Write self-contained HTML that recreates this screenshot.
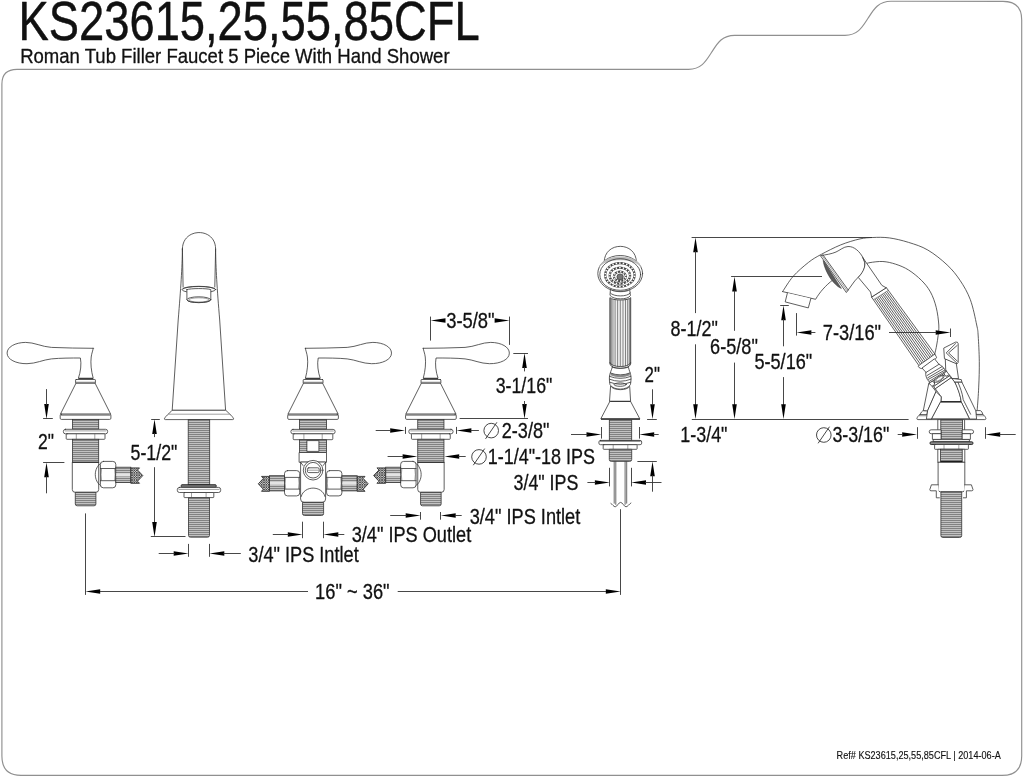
<!DOCTYPE html>
<html><head><meta charset="utf-8"><title>KS23615,25,55,85CFL</title>
<style>
html,body{margin:0;padding:0;background:#fff;}
svg{display:block;will-change:transform;}
text{font-family:"Liberation Sans",sans-serif;fill:#111;stroke:#111;stroke-width:.3px;stroke-linejoin:round;}
.tt{stroke-width:.45px;}
.ts{stroke-width:.15px;}
.d{stroke:#333;stroke-width:.9;fill:none;}
.o{stroke:#363636;stroke-width:.8;fill:#fff;stroke-linejoin:round;stroke-linecap:round;}
.n{stroke:#363636;stroke-width:.8;fill:none;stroke-linejoin:round;stroke-linecap:round;}
.f{stroke:#555;stroke-width:.55;fill:none;}
.th{stroke:#333;stroke-width:.8;fill:url(#th);}
.tf{stroke:#333;stroke-width:.9;fill:url(#tf);}
.hz{stroke:#333;stroke-width:.9;fill:url(#hz);stroke-linejoin:round;}
.ah{fill:#000;stroke:none;}
.bd{stroke:#909090;stroke-width:1.15;fill:none;}
.dk{fill:#333;stroke:#222;stroke-width:.8;}
</style></head><body>
<svg width="1024" height="778" viewBox="0 0 1024 778">
<defs>
<pattern id="th" width="8" height="2" patternUnits="userSpaceOnUse">
<rect width="8" height="2" fill="#c2c2c2"/><rect y="0" width="8" height="1" fill="#828282"/></pattern>
<pattern id="tf" width="8" height="2" patternUnits="userSpaceOnUse">
<rect width="8" height="2" fill="#a8a8a8"/><rect y="0" width="8" height="1" fill="#8a8a8a"/></pattern>
<pattern id="hz" width="2.4" height="2.4" patternUnits="userSpaceOnUse">
<rect width="2.4" height="2.4" fill="#d8d8d8"/>
<path d="M0,0L2.4,2.4M2.4,0L0,2.4" stroke="#333" stroke-width=".7"/></pattern>
</defs>
<rect width="1024" height="778" fill="#fff"/>
<path class="bd" d="M17,69.3 H688.6 C701.6,69.3 706.1,60.8 711.6,52.3 C717.1,43.8 721.6,35.3 734.6,35.3 H845.0 C858.0,35.3 862.5,26.8 868.0,18.3 C873.5,9.8 878.0,1.3 891.0,1.3 H1003 Q1021.7,1.3 1021.7,20 V756 Q1021.7,775.4 1002,775.4 H21 Q1.9,775.4 1.9,756 V84 Q1.9,69.3 17,69.3 Z"/>
<text class="tt" x="18.6" y="39.9" font-size="55.0" textLength="461.0" lengthAdjust="spacingAndGlyphs">KS23615,25,55,85CFL</text>
<text class="t" x="20.2" y="62.7" font-size="20.2" textLength="429.4" lengthAdjust="spacingAndGlyphs">Roman Tub Filler Faucet 5 Piece With Hand Shower</text>
<text class="ts" x="836.6" y="758.8" font-size="11.7" textLength="164.2" lengthAdjust="spacingAndGlyphs">Ref# KS23615,25,55,85CFL | 2014-06-A</text>
<g id="h">
<path class="o" d="M93.2,348.3 C80,348 65,348.2 51.4,347.4 C42,346.8 34,342.3 25.7,342.4 C15,342.5 7.1,347 7.1,353.1 C7.1,359.5 16,363.8 27,363.7 C36,363.6 43,359.8 51.4,358.9 C60,358 72,358 80.4,358 C81.6,364 80.6,372 78.4,378.2 L93.2,378.2 C91.2,371 90.4,363 91.2,357 C91.7,353 93,350.5 93.2,348.3 Z"/>
<path d="M78.4,378.7 H93.2" stroke="#333" stroke-width="1.2" fill="none"/>
<rect class="o" x="75.6" y="379.5" width="19.8" height="3.9" rx=".6"/>
<line class="f" x1="75.6" y1="382.2" x2="95.4" y2="382.2"/>
<path class="o" d="M75.9,383.4 L60.4,414.2 L110.7,414.2 L95.2,383.4 Z"/>
<rect class="o" x="60.2" y="414.2" width="50.7" height="5.2" rx="1.2"/>
<line class="f" x1="60.5" y1="415.5" x2="110.6" y2="415.5"/>
</g>
<use href="#h" transform="translate(398.6,0) scale(-1,1)"/>
<use href="#h" transform="translate(516.45,0) scale(-1,1)"/>
<g id="v">
<rect class="th" x="72.5" y="419.4" width="26.2" height="10"/>
<rect class="o" x="63.4" y="429.3" width="44.2" height="4.5" rx="2"/>
<line class="f" x1="64.9" y1="430.9" x2="106.2" y2="430.9"/>
<rect class="o" x="66.2" y="433.8" width="38.8" height="5.5" rx=".8"/>
<line class="f" x1="76.3" y1="433.8" x2="76.3" y2="439.3"/>
<line class="f" x1="94.8" y1="433.8" x2="94.8" y2="439.3"/>
<rect class="th" x="72.5" y="439.3" width="26.2" height="23.2"/>
<path class="o" d="M72.3,462.5 V489.5 Q72.3,492.3 75.2,492.3 H95.8 Q98.7,492.3 98.7,489.5 V462.5 Z"/>
<line class="d" x1="72.3" y1="462.5" x2="98.7" y2="462.5"/>
<path class="th" d="M75.3,492.3 H95.9 V504 Q95.9,505.8 94,505.8 H77.2 Q75.3,505.8 75.3,504 Z"/>
<path class="n" d="M101,463 C93.3,468 93.3,481 101,486"/>
<path class="o" d="M103.4,461.4 H112.8 Q115.8,461.4 115.8,464.4 V484.8 Q115.8,487.8 112.8,487.8 H103.4 Q100.4,487.8 100.4,484.8 V464.4 Q100.4,461.4 103.4,461.4 Z"/>
<line class="n" x1="100.4" y1="468.5" x2="115.8" y2="468.5"/>
<line class="n" x1="100.4" y1="480.7" x2="115.8" y2="480.7"/>
<path class="f" d="M101.6,468.5 Q100.6,474.6 101.6,480.7 M114.6,468.5 Q115.6,474.6 114.6,480.7"/>
<rect class="th" x="115.8" y="467.2" width="15" height="15.4"/>
<rect x="116.2" y="473.4" width="14.2" height="3" fill="#e4e4e4"/>
<path class="hz" d="M130.8,467.9 H139.5 L137.5,470 L142.8,475.6 L137.5,481.2 L139.5,483.3 H130.8 Z"/>
</g>
<use href="#v" transform="translate(516.45,0) scale(-1,1)"/>
<path class="o" d="M182.4,249 C182.4,227 215.6,227 215.6,249 C215.8,268 217,288 219.7,320 L225.6,410.3 H172.2 L178.2,320 C180.8,288 182.2,268 182.4,249 Z"/>
<path class="n" d="M182.4,249 L183.1,287 M215.6,249 L214.8,287"/>
<ellipse class="o" cx="198.9" cy="289.6" rx="16.9" ry="3.3"/>
<path class="n" d="M182.6,289 C186,285.6 211.8,285.6 215.2,289" />
<path class="o" d="M186.9,289.6 V299.7 C186.9,303.6 210.8,303.6 210.8,299.7 V289.6 C207,288.2 190.7,288.2 186.9,289.6Z"/>
<ellipse class="n" cx="198.9" cy="299.7" rx="11.9" ry="2.9"/>
<ellipse class="f" cx="198.9" cy="299.9" rx="10" ry="2.1"/>
<path class="o" d="M172.4,410.3 H225.8 L229.7,414 C231.5,415.5 233,417.3 233.6,418.9 Q233.6,419.6 232.6,419.6 H165.4 Q164.4,419.6 164.4,418.9 C165,417.3 166.5,415.5 168.5,414 Z"/>
<line class="f" x1="168.6" y1="414.2" x2="229.7" y2="414.2"/>
<rect class="th" x="188.2" y="419.6" width="21.5" height="65"/>
<rect x="181.2" y="484.7" width="35" height="2.7" rx=".8" fill="#777" stroke="#222" stroke-width=".9"/>
<rect class="o" x="177.3" y="487.4" width="43.4" height="5.1" rx="2.2"/>
<line class="f" x1="178.5" y1="489.4" x2="219.5" y2="489.4"/>
<rect class="o" x="184" y="492.5" width="29.8" height="5.1" rx=".6"/>
<line class="f" x1="191.5" y1="492.5" x2="191.5" y2="497.6"/>
<line class="f" x1="206.1" y1="492.5" x2="206.1" y2="497.6"/>
<path class="th" d="M188.5,497.6 H209.5 V535.4 Q209.5,537.2 207.6,537.2 H190.4 Q188.5,537.2 188.5,535.4 Z"/>
<rect class="th" x="299.5" y="419.4" width="27" height="10"/>
<rect class="o" x="290.9" y="429.4" width="44.2" height="4.4" rx="2"/>
<line class="f" x1="292.4" y1="431.0" x2="333.7" y2="431.0"/>
<rect class="o" x="293.2" y="433.8" width="39.6" height="5.9" rx=".8"/>
<line class="f" x1="303.9" y1="433.8" x2="303.9" y2="439.7"/>
<line class="f" x1="322.2" y1="433.8" x2="322.2" y2="439.7"/>
<rect class="th" x="299.5" y="439.7" width="27" height="12.8"/>
<rect class="o" x="307.2" y="440.6" width="11.7" height="10.8"/>
<rect class="o" x="299.5" y="452.5" width="27" height="9.8"/>
<path class="o" d="M300.6,462.3 V499 Q300.6,502.3 304,502.3 H322.2 Q325.6,502.3 325.6,499 V462.3 Z"/>
<path class="n" d="M300.6,462.3 L303,465.5 M325.6,462.3 L323.2,465.5"/>
<circle class="o" cx="313.1" cy="470.2" r="9.8"/>
<circle class="n" cx="313.1" cy="470.2" r="7.8"/>
<rect class="o" x="307.4" y="467.8" width="11.8" height="4.8" rx="1.4"/>
<line class="f" x1="308.0" y1="470.2" x2="318.6" y2="470.2"/>
<path class="n" d="M301.2,496.5 C302.5,491 308,488.1 313.1,488.1 C318.2,488.1 323.7,491 325,496.5"/>
<path class="th" d="M302.5,502.4 H323.6 V513.6 Q323.6,515.5 321.6,515.5 H304.5 Q302.5,515.5 302.5,513.6 Z"/>
<path class="o" d="M287.5,470.6 H296.7 Q299.7,470.6 299.7,473.6 V492.9 Q299.7,495.9 296.7,495.9 H287.5 Q284.5,495.9 284.5,492.9 V473.6 Q284.5,470.6 287.5,470.6 Z"/>
<line class="n" x1="284.5" y1="477.4" x2="299.7" y2="477.4"/>
<line class="n" x1="284.5" y1="489.1" x2="299.7" y2="489.1"/>
<path class="f" d="M285.7,477.4 Q284.7,483.2 285.7,489.1 M298.5,477.4 Q299.5,483.2 298.5,489.1"/>
<rect class="th" x="269.4" y="475.7" width="15.1" height="15.2"/>
<rect x="269.9" y="481.8" width="14.2" height="3" fill="#e4e4e4"/>
<path class="hz" d="M269.4,476.4 H261.5 L263.3,478.5 L258.3,483.8 L263.3,489.2 L261.5,491.3 H269.4 Z"/>
<path class="o" d="M329.6,470.6 H338.9 Q341.9,470.6 341.9,473.6 V492.9 Q341.9,495.9 338.9,495.9 H329.6 Q326.6,495.9 326.6,492.9 V473.6 Q326.6,470.6 329.6,470.6 Z"/>
<line class="n" x1="326.6" y1="477.4" x2="341.9" y2="477.4"/>
<line class="n" x1="326.6" y1="489.1" x2="341.9" y2="489.1"/>
<path class="f" d="M327.8,477.4 Q326.8,483.2 327.8,489.1 M340.7,477.4 Q341.7,483.2 340.7,489.1"/>
<rect class="th" x="341.9" y="475.7" width="15.3" height="15.2"/>
<rect x="342.3" y="481.8" width="14.4" height="3" fill="#e4e4e4"/>
<path class="hz" d="M357.2,476.4 H365 L363.2,478.5 L368.2,483.8 L363.2,489.2 L365,491.3 H357.2 Z"/>
<path class="o" d="M604.2,262 C604.2,241 636.4,241 636.4,262 Z"/>
<ellipse class="o" cx="620.2" cy="273.5" rx="22.4" ry="18"/>
<path d="M598.8,268 C602,252.6 638.4,252.6 641.6,268 C636,257.6 604.4,257.6 598.8,268Z" fill="#bdbdbd" stroke="none"/>
<ellipse class="n" cx="620.2" cy="274.5" rx="20.4" ry="15.8"/>
<ellipse cx="619.9" cy="274.9" rx="14.7" ry="11.8" fill="none" stroke="#444" stroke-width="2.2"/>
<circle cx="634.49" cy="276.32" r=".85" fill="#fff"/>
<circle cx="633.64" cy="279.08" r=".85" fill="#fff"/>
<circle cx="632.00" cy="281.60" r=".85" fill="#fff"/>
<circle cx="629.65" cy="283.73" r=".85" fill="#fff"/>
<circle cx="626.73" cy="285.35" r=".85" fill="#fff"/>
<circle cx="623.42" cy="286.36" r=".85" fill="#fff"/>
<circle cx="619.90" cy="286.70" r=".85" fill="#fff"/>
<circle cx="616.38" cy="286.36" r=".85" fill="#fff"/>
<circle cx="613.07" cy="285.35" r=".85" fill="#fff"/>
<circle cx="610.15" cy="283.73" r=".85" fill="#fff"/>
<circle cx="607.80" cy="281.60" r=".85" fill="#fff"/>
<circle cx="606.16" cy="279.08" r=".85" fill="#fff"/>
<circle cx="605.31" cy="276.32" r=".85" fill="#fff"/>
<circle cx="605.31" cy="273.48" r=".85" fill="#fff"/>
<circle cx="606.16" cy="270.72" r=".85" fill="#fff"/>
<circle cx="607.80" cy="268.20" r=".85" fill="#fff"/>
<circle cx="610.15" cy="266.07" r=".85" fill="#fff"/>
<circle cx="613.07" cy="264.45" r=".85" fill="#fff"/>
<circle cx="616.38" cy="263.44" r=".85" fill="#fff"/>
<circle cx="619.90" cy="263.10" r=".85" fill="#fff"/>
<circle cx="623.42" cy="263.44" r=".85" fill="#fff"/>
<circle cx="626.73" cy="264.45" r=".85" fill="#fff"/>
<circle cx="629.65" cy="266.07" r=".85" fill="#fff"/>
<circle cx="632.00" cy="268.20" r=".85" fill="#fff"/>
<circle cx="633.64" cy="270.72" r=".85" fill="#fff"/>
<circle cx="634.49" cy="273.48" r=".85" fill="#fff"/>
<ellipse cx="619.9" cy="275.7" rx="10.2" ry="8.1" fill="none" stroke="#444" stroke-width="2.2"/>
<circle cx="629.95" cy="277.11" r=".85" fill="#fff"/>
<circle cx="628.73" cy="279.75" r=".85" fill="#fff"/>
<circle cx="626.46" cy="281.90" r=".85" fill="#fff"/>
<circle cx="623.39" cy="283.31" r=".85" fill="#fff"/>
<circle cx="619.90" cy="283.80" r=".85" fill="#fff"/>
<circle cx="616.41" cy="283.31" r=".85" fill="#fff"/>
<circle cx="613.34" cy="281.90" r=".85" fill="#fff"/>
<circle cx="611.07" cy="279.75" r=".85" fill="#fff"/>
<circle cx="609.85" cy="277.11" r=".85" fill="#fff"/>
<circle cx="609.85" cy="274.29" r=".85" fill="#fff"/>
<circle cx="611.07" cy="271.65" r=".85" fill="#fff"/>
<circle cx="613.34" cy="269.50" r=".85" fill="#fff"/>
<circle cx="616.41" cy="268.09" r=".85" fill="#fff"/>
<circle cx="619.90" cy="267.60" r=".85" fill="#fff"/>
<circle cx="623.39" cy="268.09" r=".85" fill="#fff"/>
<circle cx="626.46" cy="269.50" r=".85" fill="#fff"/>
<circle cx="628.73" cy="271.65" r=".85" fill="#fff"/>
<circle cx="629.95" cy="274.29" r=".85" fill="#fff"/>
<ellipse cx="619.9" cy="276.4" rx="6.0" ry="4.7" fill="none" stroke="#444" stroke-width="2.2"/>
<circle cx="625.66" cy="277.72" r=".85" fill="#fff"/>
<circle cx="623.83" cy="279.95" r=".85" fill="#fff"/>
<circle cx="620.75" cy="281.05" r=".85" fill="#fff"/>
<circle cx="617.41" cy="280.68" r=".85" fill="#fff"/>
<circle cx="614.85" cy="278.94" r=".85" fill="#fff"/>
<circle cx="613.90" cy="276.40" r=".85" fill="#fff"/>
<circle cx="614.85" cy="273.86" r=".85" fill="#fff"/>
<circle cx="617.41" cy="272.12" r=".85" fill="#fff"/>
<circle cx="620.75" cy="271.75" r=".85" fill="#fff"/>
<circle cx="623.83" cy="272.85" r=".85" fill="#fff"/>
<circle cx="625.66" cy="275.08" r=".85" fill="#fff"/>
<ellipse cx="620.1" cy="276.8" rx="3.2" ry="2.9" fill="#777" stroke="#333" stroke-width=".7"/>
<path class="o" d="M610.7,289.6 C613,292.4 627.4,292.4 629.7,289.6 L630.4,295.6 C628,300 613,300 610.2,295.6 Z"/>
<path class="n" d="M610.4,293 C613,297 628,297 630.2,293"/>
<path d="M609.9,297.6 C612,300.8 629,300.8 630.7,297.6 V364 C629.6,369.8 611.2,369.8 609.9,364 Z" fill="#efefef" stroke="#333" stroke-width=".85"/>
<line x1="610.25" y1="298.3" x2="610.25" y2="363.8" stroke="#555" stroke-width=".7"/>
<line x1="611.29" y1="298.9" x2="611.29" y2="364.8" stroke="#555" stroke-width=".7"/>
<line x1="612.95" y1="299.4" x2="612.95" y2="365.6" stroke="#555" stroke-width=".7"/>
<line x1="615.10" y1="299.9" x2="615.10" y2="366.2" stroke="#555" stroke-width=".7"/>
<line x1="617.61" y1="300.1" x2="617.61" y2="366.6" stroke="#555" stroke-width=".7"/>
<line x1="620.30" y1="300.2" x2="620.30" y2="366.7" stroke="#555" stroke-width=".7"/>
<line x1="622.99" y1="300.1" x2="622.99" y2="366.6" stroke="#555" stroke-width=".7"/>
<line x1="625.50" y1="299.9" x2="625.50" y2="366.2" stroke="#555" stroke-width=".7"/>
<line x1="627.65" y1="299.4" x2="627.65" y2="365.6" stroke="#555" stroke-width=".7"/>
<line x1="629.31" y1="298.9" x2="629.31" y2="364.8" stroke="#555" stroke-width=".7"/>
<line x1="630.35" y1="298.3" x2="630.35" y2="363.8" stroke="#555" stroke-width=".7"/>
<path class="n" d="M609.9,362.6 C611.2,368 629.6,368 630.7,362.6"/>
<path class="o" d="M612.3,367.2 C611.6,370 609.6,373.4 609.4,377 C609.3,380 609.6,382.6 610,384.6 C613,390.6 627.4,390.6 630.4,384.6 C630.8,382.6 631.1,380 631,377 C630.8,373.4 628.9,370 628.4,367.2 C624,368.9 616,368.9 612.3,367.2Z"/>
<path d="M610.6,374.3 Q620.2,378.2 629.8,374.3" stroke="#8a8a8a" stroke-width="2" fill="none"/>
<path class="n" d="M610.4,373 Q620.2,376.8 630,373 M609.6,376.4 Q620.2,380.4 630.8,376.4 M609.4,379.2 Q620.2,383.4 631,379.2 M609.7,382.2 Q620.2,386.4 630.7,382.2"/>
<ellipse class="n" cx="620.2" cy="384.6" rx="6.1" ry="1.7"/>
<path class="o" d="M610.8,386.4 C613.5,390.8 627,390.8 629.7,386.4 L630.6,401.4 H609.9 Z"/>
<path class="o" d="M610.3,401.3 H630.5 L639.8,418.8 H601.2 Z"/>
<line class="d" x1="610.3" y1="401.5" x2="630.5" y2="401.5"/>
<path d="M601,419.1 H640" stroke="#222" stroke-width="1.3"/>
<rect class="th" x="609.3" y="419.8" width="22.4" height="20.6"/>
<rect class="o" x="598.9" y="440.4" width="42.8" height="4.3" rx="1.6"/>
<path d="M600,441 H640.6" stroke="#333" stroke-width="1.2"/>
<rect class="o" x="603.2" y="444.7" width="33.9" height="4.6" rx=".6"/>
<line class="f" x1="613.2" y1="444.7" x2="613.2" y2="449.3"/>
<line class="f" x1="627.8" y1="444.7" x2="627.8" y2="449.3"/>
<path class="th" d="M609.3,449.3 H631.7 V459.5 Q631.7,461.4 629.7,461.4 H611.3 Q609.3,461.4 609.3,459.5 Z"/>
<path d="M614.2,461.4 V503.6 M626.7,461.4 V503.6 M615.8,461.4 V504.8 M625.1,461.4 V504.8" stroke="#2a2a2a" stroke-width=".7" fill="none"/>
<path class="n" d="M610.9,503.4 C612.5,504.2 613.6,506.8 615.2,506.8 C617.2,506.8 618.4,502.4 620.6,502.4 C622.8,502.4 624,506.8 626,506.8 C627.6,506.8 629,504.2 630.9,503"/>
<path class="n" d="M782.6,291.6 C784.4,289.1 788.8,281.3 793.1,276.4 C797.4,271.5 803.9,266.0 808.6,262.3 C813.3,258.6 816.0,257.2 821.4,254.3 C826.8,251.4 834.3,247.5 840.7,244.9 C847.1,242.3 854.6,240.1 860.0,238.9 C865.4,237.7 868.0,237.7 872.9,237.5 C877.8,237.3 883.3,237.1 889.3,237.9 C895.2,238.7 902.2,240.4 908.6,242.4 C915.0,244.4 921.5,246.3 927.9,250.1 C934.3,253.8 941.8,259.9 947.1,264.9 C952.5,269.9 956.1,274.5 960.0,280.3 C963.9,286.1 967.5,292.2 970.3,299.6 C973.1,307.1 975.4,318.9 976.7,325.0 C978.0,331.1 977.8,329.9 978.2,336.0 C978.6,342.1 979.2,352.9 979.3,361.4 C979.4,369.9 979.1,379.1 978.7,387.1 C978.4,395.1 977.5,405.9 977.2,409.6"/>
<path class="n" d="M782.6,291.6 L815.6,299.3 C819.5,292.5 825.5,285.5 833,279.8"/>
<path class="o" d="M787.4,293 L785.2,301.9 L808.3,307.9 L810.9,298.4"/>
<path class="n" d="M866.3,263.8 C866.9,263.6 867.2,263.0 870.0,262.6 C872.8,262.2 878.6,261.2 882.9,261.5 C887.2,261.8 891.4,262.8 895.7,264.2 C900.0,265.6 904.3,267.3 908.6,270.0 C912.9,272.7 917.8,276.7 921.4,280.3 C925.0,283.9 927.9,287.4 930.4,291.9 C932.9,296.4 934.8,301.8 936.2,307.3 C937.6,312.8 938.5,320.3 938.8,325.0 C939.1,329.7 938.5,332.4 938.1,335.7 C937.8,339.0 937.2,341.9 936.7,345.0 C936.2,348.1 935.1,352.5 934.8,354.0"/>
<path class="o" d="M820.8,255.6 C826,254.6 831,254.2 836,252 C840,250.2 843.5,246.8 848,246.5 C854,246.2 860,251.5 863.4,258.5 C865.5,263 865.2,268.5 862.5,272.4 C859.5,276.6 855.2,279.6 852.5,284 L846.6,292.2 Z"/>
<path class="f" d="M821.8,255.2 L847.3,291.2"/>
<path class="n" d="M822.9,254.8 L848.2,290"/>
<path d="M823.2,260.4 C823.6,266 827.6,274.6 831.6,280 C834.4,283.8 838.6,287.6 841.4,288.4 L823.6,260.8 Z" fill="#5a5a5a" stroke="#333" stroke-width=".5"/>
<path class="o" d="M862.9,257.8 L881.9,285.4 L886.6,288 L871.8,297.4 L870.5,292 L858.3,277.4 C861.5,273.8 865.4,268.6 864.9,263 Z"/>
<path class="o" d="M886.6,288.0 L935.0,354.2 L919.2,366.0 L871.8,297.4 Z"/>
<line x1="886.8" y1="291.3" x2="933.4" y2="355.4" stroke="#606060" stroke-width="1"/>
<line x1="885.3" y1="292.2" x2="931.8" y2="356.6" stroke="#606060" stroke-width="1"/>
<line x1="883.8" y1="293.2" x2="930.3" y2="357.7" stroke="#606060" stroke-width="1"/>
<line x1="882.4" y1="294.1" x2="928.7" y2="358.9" stroke="#606060" stroke-width="1"/>
<line x1="880.9" y1="295.1" x2="927.1" y2="360.1" stroke="#606060" stroke-width="1"/>
<line x1="879.4" y1="296.0" x2="925.5" y2="361.3" stroke="#606060" stroke-width="1"/>
<line x1="877.9" y1="297.0" x2="923.9" y2="362.5" stroke="#606060" stroke-width="1"/>
<line x1="876.4" y1="297.9" x2="922.4" y2="363.6" stroke="#606060" stroke-width="1"/>
<line x1="874.9" y1="298.9" x2="920.8" y2="364.8" stroke="#606060" stroke-width="1"/>
<path class="f" d="M888.3,290.3 L873.5,299.7"/>
<path class="o" d="M934.5,354.3 L918.7,365.6 Q917.9,366.6 918.9,367.4 L920.9,368.5 Q921.6,368.7 922.3,368.3 L936.3,358.2 Q936.9,357.4 936.3,356.6 Z"/>
<path class="o" d="M922.3,367.8 L934.5,358.8 L939,364.3 C941.5,365.6 944.3,368 945.7,371 L946.2,372.4 L929.8,383.2 L929,381.6 C926.6,379 925.2,375.5 925.8,372.6 Z"/>
<line class="n" x1="925.8" y1="372.6" x2="939.0" y2="364.3"/>
<line class="n" x1="927.1" y1="375.5" x2="942.2" y2="366.5"/>
<line class="n" x1="927.7" y1="377.8" x2="943.5" y2="368.5"/>
<line class="n" x1="928.4" y1="379.4" x2="944.8" y2="370.1"/>
<line class="n" x1="929.4" y1="381.3" x2="945.4" y2="371.3"/>
<path class="o" d="M930.2,382.6 L946,372.2 L949.6,375.8 L934.2,386.1 Z"/>
<ellipse class="o" cx="939.3" cy="378.7" rx="5.6" ry="2.2" transform="rotate(-33 939.3 378.7)"/>
<ellipse class="f" cx="939.3" cy="378.7" rx="4.2" ry="1.3" transform="rotate(-33 939.3 378.7)"/>
<ellipse class="o" cx="931.9" cy="383.9" rx="2.9" ry="2.3" transform="rotate(-33 931.9 383.9)"/>
<ellipse class="o" cx="947" cy="373.6" rx="2.9" ry="2.3" transform="rotate(-33 947 373.6)"/>
<path class="o" d="M945.3,359 L945.7,369.4 L947,372 L952.4,378.5 L958.6,378.6 L958.3,377.1 L956.3,363.6 Z"/>
<path class="o" d="M944.1,347.9 L955.6,342.1 Q957.8,341.5 958.2,343.6 L958.2,362.4 Q958,364 955.8,363.5 L944.8,358.8 Z"/>
<path class="n" d="M955.6,343.6 L946.2,352.9 L956.8,363 M957.2,345.4 L948.6,352.9 L957.4,361.2"/>
<path class="o" d="M934.2,386.1 L949.6,375.8 L951.2,378.1 L935.5,389 Z"/>
<path class="o" d="M952.4,378.5 L961.3,379.6 L962,382.4 H955 Z"/>
<path class="o" d="M951.2,378.1 C953.6,380 955.8,383.6 957.2,387 C959,391.4 960.8,397 961.2,401.8 H940.9 L941.25,396.9 L935.5,389 Z"/>
<path class="o" d="M920.2,414.4 H982.8 C984.4,415.4 985.5,417 985.9,418.4 Q985.9,419.6 984.8,419.6 H918 Q916.9,419.6 916.9,418.4 C917.4,417 918.4,415.4 920.2,414.4 Z"/>
<path class="o" d="M920.2,414.4 C921,412.4 922,411 923.3,410.7 H927.6 L927,414.4 Z M976,410.6 H980.3 C981.6,411 982.4,412.6 982.8,414.4 H976.4 Z"/>
<line class="f" x1="919.0" y1="415.8" x2="926.6" y2="415.8"/>
<line class="f" x1="976.6" y1="415.8" x2="984.2" y2="415.8"/>
<path class="o" d="M962,382.4 L975.8,410.8 L976.6,419 L969.5,419 L961.2,401.8 C960.6,396 958,389 955,382.4 Z"/>
<path class="n" d="M958,382.4 C960,387 962.4,393 963.2,399.6 L970.6,414.2"/>
<path class="o" d="M928.75,383.6 L923.3,410.6 L927.6,410.9 L936.2,391.8 L931.6,385.8 Z"/>
<path class="o" d="M936.2,391.8 L941.25,396.9 L940.9,401.7 L931.9,419 L926.4,419 L927.6,410.9 Z"/>
<path class="o" d="M940.9,401.8 H961.2 L969.4,418.75 H931.9 Z"/>
<path d="M940.9,401.8 H961.2" stroke="#222" stroke-width="1.3"/>
<rect class="o" x="938.2" y="419.6" width="26.4" height="20.6"/>
<rect class="th" x="940.8" y="419.6" width="21.6" height="20.6"/>
<path class="o" d="M940.8,429.8 H931.2 Q929.2,429.8 929.2,431.8 Q929.2,433.7 931.2,433.7 H940.8 Z M962.4,429.8 H971.6 Q973.6,429.8 973.6,431.8 Q973.6,433.7 971.6,433.7 H962.4 Z"/>
<path class="o" d="M940.8,433.7 H932.4 V439.4 H940.8 Z M962.4,433.7 H970.4 V439.4 H962.4 Z"/>
<rect class="o" x="933.6" y="439.6" width="35.8" height="2.2"/>
<rect x="930" y="441.8" width="43" height="2.7" rx="1.2" fill="#8a8a8a" stroke="#222" stroke-width=".9"/>
<rect class="o" x="934.6" y="444.5" width="33.8" height="4.8" rx=".6"/>
<line class="f" x1="944.0" y1="444.5" x2="944.0" y2="449.3"/>
<line class="f" x1="958.8" y1="444.5" x2="958.8" y2="449.3"/>
<rect class="o" x="938.2" y="449.3" width="26.6" height="13.2"/>
<rect class="th" x="940.6" y="449.3" width="21.6" height="13"/>
<path d="M940.6,461.6 H962.2" stroke="#111" stroke-width="1.3"/>
<path class="o" d="M938.1,462.5 V489.4 Q938.1,491.8 940.6,491.8 H962.3 Q964.8,491.8 964.8,489.4 V462.5 Z"/>
<path class="o" d="M938.1,484.8 H931.4 L929.8,489.6 Q929.8,490.8 931,490.8 H936.3 V497.8 H939.4 M964.8,484.8 H971.4 L973,489.6 Q973,490.8 971.8,490.8 H966.4 V497.8 H963.4"/>
<path class="th" d="M940.9,491.8 H961.7 V535.6 Q961.7,537.5 959.7,537.5 H942.9 Q940.9,537.5 940.9,535.6 Z"/>
<line class="d" x1="43.1" y1="418.5" x2="52.8" y2="418.5"/>
<polygon class="ah" points="46.5,418.9 44.2,404.1 48.8,404.1"/>
<line class="d" x1="46.5" y1="389.1" x2="46.5" y2="405.1"/>
<line class="d" x1="43.1" y1="462.5" x2="64.4" y2="462.5"/>
<polygon class="ah" points="46.5,462.5 44.2,477.3 48.8,477.3"/>
<line class="d" x1="46.5" y1="476.3" x2="46.5" y2="493.3"/>
<text class="t" x="38.0" y="448.6" font-size="21.6" textLength="16.0" lengthAdjust="spacingAndGlyphs">2&quot;</text>
<line class="d" x1="151.2" y1="419.5" x2="159.8" y2="419.5"/>
<polygon class="ah" points="154.5,419.3 152.2,434.1 156.8,434.1"/>
<line class="d" x1="154.5" y1="433.1" x2="154.5" y2="437.1"/>
<text class="t" x="130.6" y="460.1" font-size="21.6" textLength="46.7" lengthAdjust="spacingAndGlyphs">5-1/2&quot;</text>
<line class="d" x1="154.5" y1="467.2" x2="154.5" y2="523.0"/>
<polygon class="ah" points="154.5,536.9 152.2,522.1 156.8,522.1"/>
<line class="d" x1="150.8" y1="536.5" x2="185.5" y2="536.5"/>
<line class="d" x1="188.5" y1="543.9" x2="188.5" y2="556.8"/>
<line class="d" x1="209.5" y1="543.9" x2="209.5" y2="556.8"/>
<polygon class="ah" points="188.5,553.5 173.7,551.2 173.7,555.8"/>
<line class="d" x1="158.7" y1="553.5" x2="174.7" y2="553.5"/>
<polygon class="ah" points="209.5,553.5 224.3,551.2 224.3,555.8"/>
<line class="d" x1="223.3" y1="553.5" x2="240.8" y2="553.5"/>
<text class="t" x="248.3" y="561.5" font-size="21.6" textLength="110.4" lengthAdjust="spacingAndGlyphs">3/4&quot; IPS Intlet</text>
<line class="d" x1="302.5" y1="521.7" x2="302.5" y2="538.2"/>
<line class="d" x1="323.5" y1="521.7" x2="323.5" y2="538.2"/>
<polygon class="ah" points="302.6,534.5 287.8,532.2 287.8,536.8"/>
<line class="d" x1="272.8" y1="534.5" x2="288.8" y2="534.5"/>
<polygon class="ah" points="323.5,534.5 338.3,532.2 338.3,536.8"/>
<line class="d" x1="337.3" y1="534.5" x2="344.3" y2="534.5"/>
<text class="t" x="351.7" y="542.2" font-size="21.6" textLength="119.5" lengthAdjust="spacingAndGlyphs">3/4&quot; IPS Outlet</text>
<line class="d" x1="420.5" y1="512.0" x2="420.5" y2="519.7"/>
<line class="d" x1="440.5" y1="512.0" x2="440.5" y2="519.7"/>
<polygon class="ah" points="420.5,515.5 405.7,513.2 405.7,517.8"/>
<line class="d" x1="390.2" y1="515.5" x2="406.7" y2="515.5"/>
<polygon class="ah" points="440.9,515.5 455.7,513.2 455.7,517.8"/>
<line class="d" x1="454.7" y1="515.5" x2="461.7" y2="515.5"/>
<text class="t" x="469.7" y="524.1" font-size="21.6" textLength="110.6" lengthAdjust="spacingAndGlyphs">3/4&quot; IPS Intlet</text>
<polygon class="ah" points="417.4,456.5 402.6,454.2 402.6,458.8"/>
<line class="d" x1="387.6" y1="456.5" x2="403.6" y2="456.5"/>
<polygon class="ah" points="444.4,456.5 459.2,454.2 459.2,458.8"/>
<line class="d" x1="458.2" y1="456.5" x2="465.7" y2="456.5"/>
<circle class="d" cx="479.0" cy="456.9" r="7.3"/>
<line class="d" x1="473.3" y1="465.2" x2="484.7" y2="448.6"/>
<text class="t" x="487.7" y="464.4" font-size="21.6" textLength="107.3" lengthAdjust="spacingAndGlyphs">1-1/4&quot;-18 IPS</text>
<line class="d" x1="405.5" y1="426.9" x2="405.5" y2="433.9"/>
<line class="d" x1="456.5" y1="426.9" x2="456.5" y2="433.9"/>
<polygon class="ah" points="405.0,430.5 390.2,428.2 390.2,432.8"/>
<line class="d" x1="375.7" y1="430.5" x2="391.2" y2="430.5"/>
<polygon class="ah" points="456.6,430.5 471.4,428.2 471.4,432.8"/>
<line class="d" x1="470.4" y1="430.5" x2="478.9" y2="430.5"/>
<circle class="d" cx="491.2" cy="430.6" r="7.3"/>
<line class="d" x1="485.5" y1="438.9" x2="496.9" y2="422.3"/>
<text class="t" x="501.8" y="438.1" font-size="21.6" textLength="47.6" lengthAdjust="spacingAndGlyphs">2-3/8&quot;</text>
<line class="d" x1="430.5" y1="316.6" x2="430.5" y2="340.6"/>
<line class="d" x1="509.5" y1="316.6" x2="509.5" y2="344.9"/>
<polygon class="ah" points="430.7,320.5 445.5,318.2 445.5,322.8"/>
<polygon class="ah" points="509.4,320.5 494.6,318.2 494.6,322.8"/>
<text class="t" x="446.2" y="328.3" font-size="21.6" textLength="48.4" lengthAdjust="spacingAndGlyphs">3-5/8&quot;</text>
<line class="d" x1="513.3" y1="353.5" x2="528.0" y2="353.5"/>
<line class="d" x1="459.6" y1="418.5" x2="528.0" y2="418.5"/>
<polygon class="ah" points="524.5,353.1 522.2,367.9 526.8,367.9"/>
<line class="d" x1="524.5" y1="366.9" x2="524.5" y2="371.4"/>
<polygon class="ah" points="524.5,418.8 522.2,404.0 526.8,404.0"/>
<line class="d" x1="524.5" y1="401.0" x2="524.5" y2="405.0"/>
<text class="t" x="495.7" y="393.4" font-size="21.6" textLength="56.7" lengthAdjust="spacingAndGlyphs">3-1/16&quot;</text>
<text class="t" x="513.5" y="490.2" font-size="21.6" textLength="64.9" lengthAdjust="spacingAndGlyphs">3/4&quot; IPS</text>
<line class="d" x1="609.5" y1="467.8" x2="609.5" y2="486.4"/>
<line class="d" x1="631.5" y1="467.8" x2="631.5" y2="486.4"/>
<polygon class="ah" points="609.7,482.5 594.9,480.2 594.9,484.8"/>
<line class="d" x1="587.4" y1="482.5" x2="595.9" y2="482.5"/>
<polygon class="ah" points="631.2,482.5 646.0,480.2 646.0,484.8"/>
<line class="d" x1="645.0" y1="482.5" x2="661.5" y2="482.5"/>
<line class="d" x1="601.5" y1="427.0" x2="601.5" y2="438.6"/>
<line class="d" x1="639.5" y1="427.0" x2="639.5" y2="438.6"/>
<polygon class="ah" points="601.3,434.5 586.5,432.2 586.5,436.8"/>
<line class="d" x1="571.0" y1="434.5" x2="587.5" y2="434.5"/>
<polygon class="ah" points="639.4,434.5 654.2,432.2 654.2,436.8"/>
<line class="d" x1="653.2" y1="434.5" x2="658.7" y2="434.5"/>
<text class="t" x="680.2" y="441.7" font-size="21.6" textLength="47.3" lengthAdjust="spacingAndGlyphs">1-3/4&quot;</text>
<text class="t" x="644.6" y="381.7" font-size="21.6" textLength="15.4" lengthAdjust="spacingAndGlyphs">2&quot;</text>
<line class="d" x1="647.1" y1="419.5" x2="656.8" y2="419.5"/>
<polygon class="ah" points="652.5,419.1 650.2,404.3 654.8,404.3"/>
<line class="d" x1="652.5" y1="389.3" x2="652.5" y2="405.3"/>
<line class="d" x1="637.4" y1="461.5" x2="656.8" y2="461.5"/>
<polygon class="ah" points="652.5,461.4 650.2,476.2 654.8,476.2"/>
<line class="d" x1="652.5" y1="475.2" x2="652.5" y2="491.7"/>
<line class="d" x1="85.5" y1="513.4" x2="85.5" y2="594.9"/>
<line class="d" x1="620.5" y1="509.2" x2="620.5" y2="594.9"/>
<polygon class="ah" points="85.4,591.5 100.2,589.2 100.2,593.8"/>
<polygon class="ah" points="620.6,591.5 605.8,589.2 605.8,593.8"/>
<line class="d" x1="100.0" y1="591.5" x2="308.0" y2="591.5"/>
<line class="d" x1="397.7" y1="591.5" x2="606.0" y2="591.5"/>
<text class="t" x="315.1" y="599.2" font-size="21.6" textLength="74.5" lengthAdjust="spacingAndGlyphs">16&quot; ~ 36&quot;</text>
<line class="d" x1="691.6" y1="237.5" x2="872.0" y2="237.5"/>
<line class="d" x1="691.8" y1="419.5" x2="908.6" y2="419.5"/>
<polygon class="ah" points="695.5,237.4 693.2,252.2 697.8,252.2"/>
<line class="d" x1="695.5" y1="251.0" x2="695.5" y2="313.1"/>
<line class="d" x1="695.5" y1="344.3" x2="695.5" y2="405.0"/>
<polygon class="ah" points="695.5,419.1 693.2,404.3 697.8,404.3"/>
<text class="t" x="670.6" y="336.0" font-size="21.6" textLength="47.2" lengthAdjust="spacingAndGlyphs">8-1/2&quot;</text>
<line class="d" x1="731.1" y1="276.5" x2="822.0" y2="276.5"/>
<polygon class="ah" points="734.5,276.8 732.2,291.6 736.8,291.6"/>
<line class="d" x1="734.5" y1="290.5" x2="734.5" y2="330.8"/>
<line class="d" x1="734.5" y1="362.6" x2="734.5" y2="405.0"/>
<polygon class="ah" points="734.5,419.1 732.2,404.3 736.8,404.3"/>
<text class="t" x="710.1" y="354.4" font-size="21.6" textLength="47.8" lengthAdjust="spacingAndGlyphs">6-5/8&quot;</text>
<line class="d" x1="780.2" y1="305.5" x2="788.8" y2="305.5"/>
<polygon class="ah" points="783.5,305.4 781.2,320.2 785.8,320.2"/>
<line class="d" x1="783.5" y1="319.0" x2="783.5" y2="346.3"/>
<line class="d" x1="783.5" y1="377.1" x2="783.5" y2="405.0"/>
<polygon class="ah" points="783.5,419.1 781.2,404.3 785.8,404.3"/>
<text class="t" x="754.4" y="369.4" font-size="21.6" textLength="57.9" lengthAdjust="spacingAndGlyphs">5-5/16&quot;</text>
<line class="d" x1="796.5" y1="313.1" x2="796.5" y2="335.6"/>
<line class="d" x1="950.5" y1="328.5" x2="950.5" y2="337.0"/>
<polygon class="ah" points="796.6,332.5 811.4,330.2 811.4,334.8"/>
<line class="d" x1="810.4" y1="332.5" x2="815.4" y2="332.5"/>
<polygon class="ah" points="950.5,332.5 935.7,330.2 935.7,334.8"/>
<line class="d" x1="889.0" y1="332.5" x2="936.5" y2="332.5"/>
<text class="t" x="822.8" y="340.2" font-size="21.6" textLength="58.3" lengthAdjust="spacingAndGlyphs">7-3/16&quot;</text>
<line class="d" x1="917.5" y1="427.2" x2="917.5" y2="438.8"/>
<line class="d" x1="985.5" y1="427.2" x2="985.5" y2="438.8"/>
<polygon class="ah" points="917.0,434.5 902.2,432.2 902.2,436.8"/>
<line class="d" x1="897.7" y1="434.5" x2="903.2" y2="434.5"/>
<polygon class="ah" points="985.4,434.5 1000.2,432.2 1000.2,436.8"/>
<line class="d" x1="999.2" y1="434.5" x2="1015.7" y2="434.5"/>
<circle class="d" cx="823.8" cy="435.0" r="7.3"/>
<line class="d" x1="818.1" y1="443.3" x2="829.5" y2="426.7"/>
<text class="t" x="832.4" y="441.7" font-size="21.6" textLength="56.9" lengthAdjust="spacingAndGlyphs">3-3/16&quot;</text>
</svg>
</body></html>
